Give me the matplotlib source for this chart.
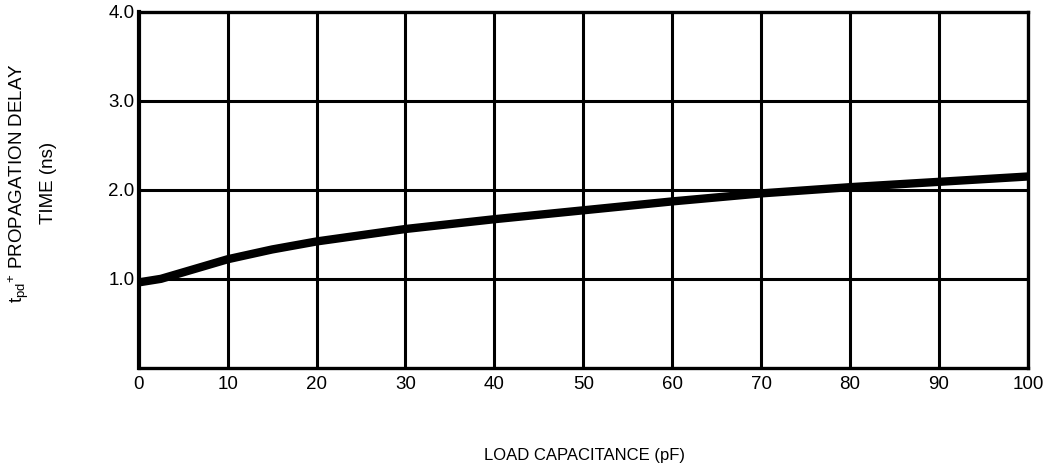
import matplotlib
matplotlib.use('Agg')
import matplotlib.pyplot as plt

# ─── Dados ───────────────────────────────────────────────────────────────────
load_pf   = [0, 2.5, 10, 15, 20, 30, 40, 50, 60, 70, 80, 90, 100]
tpd_ns    = [0.96, 1.00, 1.22, 1.33, 1.42, 1.56, 1.67, 1.77, 1.87, 1.96, 2.03, 2.09, 2.15]
x_ticks   = [0, 10, 20, 30, 40, 50, 60, 70, 80, 90, 100]
y_ticks   = [1.0, 2.0, 3.0, 4.0]

plt.rcParams['font.family'] = ['Liberation Sans', 'DejaVu Sans']

fig = plt.figure(figsize=(10.51, 4.74), dpi=100)
ax = fig.add_axes([0.132, 0.224, 0.846, 0.751])

# grade
for xv in x_ticks[1:-1]:
    ax.axvline(xv, color='black', linewidth=2.2, zorder=1)
for yv in y_ticks[:-1]:
    ax.axhline(yv, color='black', linewidth=2.2, zorder=1)

# curva
ax.plot(load_pf, tpd_ns, color='black', linewidth=6.0,
        solid_capstyle='butt', zorder=3)

ax.set_xlim(0, 100)
ax.set_ylim(0, 4.0)
ax.set_xticks(x_ticks)
ax.set_xticklabels([str(v) for v in x_ticks])
ax.set_yticks(y_ticks)
ax.set_yticklabels([f"{v:.1f}" for v in y_ticks])
ax.tick_params(axis='both', length=0, labelsize=13.5)
ax.tick_params(axis='x', pad=6)
ax.tick_params(axis='y', pad=3)

for side in ['left', 'right', 'top', 'bottom']:
    ax.spines[side].set_linewidth(2.4)
ax.spines['left'].set_linewidth(3.0)

fig.text(0.030, 0.614,
         r"$\mathregular{t_{pd}{}^{+}}$ PROPAGATION DELAY" + "\nTIME (ns)",
         rotation=90, ha='center', va='center', fontsize=13.5,
         linespacing=1.7, multialignment='center')

fig.text(0.556, 0.040, "LOAD CAPACITANCE (pF)",
         ha='center', va='center', fontsize=12)

plt.savefig("out.png", dpi=100, facecolor='white')
plt.close()
